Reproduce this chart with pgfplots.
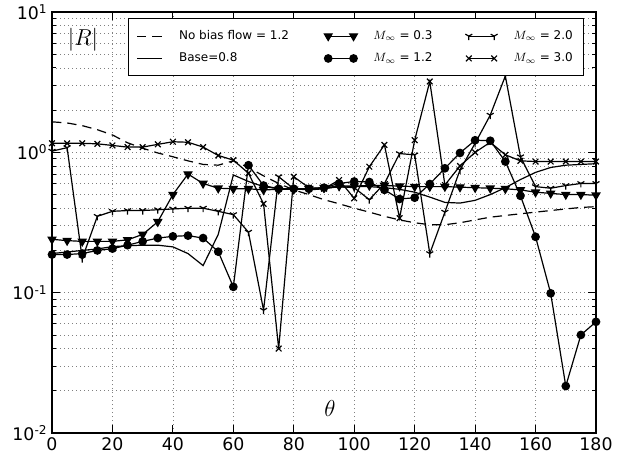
\documentclass[border=0pt]{standalone}
\usepackage{fontspec}
\setmainfont{DejaVu Sans}
\usepackage{pgfplots}
\pgfplotsset{compat=1.18}
\begin{document}
\begin{tikzpicture}
\path[use as bounding box] (-39pt,-16.5pt) rectangle (436.5pt,324.75pt);
\begin{axis}[
  at={(0,0)}, anchor=south west,
  scale only axis, width=408pt, height=315.75pt,
  xmin=0, xmax=180, ymin=0.01, ymax=10, ymode=log,
  xtick={0,20,...,180},
  ytick={0.01,0.1,1,10},
  yticklabels={10\textsuperscript{-2},10\textsuperscript{-1},10\textsuperscript{0},10\textsuperscript{1}},
  /pgf/number format/assume math mode=true,
  ticklabel style={font=\fontsize{13}{15}\selectfont},
  tick align=inside,
  major tick length=6pt, minor tick length=3pt,
  tick style={black, line width=0.6pt},
  xmajorgrids, ymajorgrids, yminorgrids,
  major grid style={gray, line width=0.5pt, dash pattern=on 0.8pt off 2.2pt},
  minor grid style={gray, line width=0.5pt, dash pattern=on 0.8pt off 2.2pt},
  axis line style={line width=0.8pt},
  every axis plot/.append style={black, line width=0.9pt},
  legend columns=3,
  legend image code/.code={\draw[mark repeat=1,#1] plot coordinates {(0pt,0pt) (19pt,0pt)};},
  legend style={at={(0.1397,0.9857)}, anchor=north west, draw=black, line width=0.8pt,
    font=\fontsize{9}{11}\selectfont, inner xsep=6pt, inner ysep=7pt, row sep=4.5pt,
    /tikz/every odd column/.append style={column sep=10pt}},
  legend cell align=left,
]
% No bias flow
\addplot[mark=none, dash pattern=on 7pt off 4.5pt] coordinates {
(0,1.65) (5,1.62) (10,1.55) (15,1.45) (20,1.33) (25,1.17) (30,1.07) (35,0.99) (40,0.93) (45,0.87)
(50,0.82) (55,0.81) (60,0.87) (65,0.78) (70,0.68) (75,0.60) (80,0.54) (85,0.50) (90,0.46) (95,0.43)
(100,0.40) (105,0.375) (110,0.35) (115,0.33) (120,0.315) (125,0.305) (130,0.305) (135,0.315) (140,0.33) (145,0.345)
(150,0.355) (155,0.365) (160,0.375) (165,0.385) (170,0.395) (175,0.405) (180,0.41)};
\addlegendentry{\makebox[107pt][l]{No bias flow = 1.2}}
% M = 0.3
\addplot[mark=triangle*, mark size=3.3pt, mark options={fill=black, rotate=180, solid}] coordinates {
(0,0.24) (5,0.235) (10,0.232) (15,0.232) (20,0.232) (25,0.238) (30,0.26) (35,0.32) (40,0.50) (45,0.70)
(50,0.60) (55,0.555) (60,0.55) (65,0.55) (70,0.54) (75,0.545) (80,0.545) (85,0.55) (90,0.56) (95,0.575)
(100,0.575) (105,0.58) (110,0.58) (115,0.575) (120,0.57) (125,0.57) (130,0.57) (135,0.565) (140,0.56) (145,0.555)
(150,0.55) (155,0.54) (160,0.52) (165,0.51) (170,0.50) (175,0.50) (180,0.495)};
\addlegendentry{\makebox[67pt][l]{$M_\infty$ = 0.3}}
% M = 2.0
\addplot[mark=Mercedes star flipped, mark size=3pt, mark options={solid}] coordinates {
(0,1.02) (5,1.08) (10,0.175) (15,0.35) (20,0.38) (25,0.385) (30,0.385) (35,0.39) (40,0.395) (45,0.40)
(50,0.40) (55,0.38) (60,0.36) (65,0.27) (70,0.075) (75,0.67) (80,0.55) (85,0.54) (90,0.55) (95,0.57)
(100,0.56) (105,0.46) (110,0.60) (115,0.98) (120,0.96) (125,0.19) (130,0.375) (135,0.75) (140,1.16) (145,1.84)
(150,3.5) (155,0.93) (160,0.57) (165,0.555) (170,0.58) (175,0.60) (180,0.60)};
\addlegendentry{$M_\infty$ = 2.0}
% Base
\addplot[mark=none] coordinates {
(0,0.19) (5,0.195) (10,0.20) (15,0.205) (20,0.213) (25,0.216) (30,0.218) (35,0.218) (40,0.212) (45,0.19)
(50,0.156) (55,0.26) (60,0.69) (65,0.62) (70,0.57) (75,0.55) (80,0.55) (85,0.55) (90,0.56) (95,0.565)
(100,0.57) (105,0.57) (110,0.56) (115,0.545) (120,0.52) (125,0.48) (130,0.44) (135,0.435) (140,0.455) (145,0.50)
(150,0.56) (155,0.64) (160,0.72) (165,0.78) (170,0.81) (175,0.82) (180,0.83)};
\addlegendentry{\makebox[107pt][l]{Base=0.8}}
% M = 1.2
\addplot[mark=*, mark size=2.8pt, mark options={fill=black, solid}] coordinates {
(0,0.187) (5,0.187) (10,0.19) (15,0.20) (20,0.206) (25,0.218) (30,0.232) (35,0.245) (40,0.252) (45,0.255)
(50,0.245) (55,0.196) (60,0.11) (65,0.81) (70,0.58) (75,0.55) (80,0.55) (85,0.55) (90,0.56) (95,0.60)
(100,0.62) (105,0.615) (110,0.54) (115,0.465) (120,0.475) (125,0.595) (130,0.77) (135,0.99) (140,1.22) (145,1.21)
(150,0.86) (155,0.49) (160,0.25) (165,0.099) (170,0.0216) (175,0.05) (180,0.062)};
\addlegendentry{\makebox[67pt][l]{$M_\infty$ = 1.2}}
% M = 3.0
\addplot[mark=x, mark size=3pt, mark options={solid}] coordinates {
(0,1.16) (5,1.16) (10,1.16) (15,1.15) (20,1.12) (25,1.09) (30,1.09) (35,1.14) (40,1.19) (45,1.18)
(50,1.09) (55,0.95) (60,0.88) (65,0.71) (70,0.43) (75,0.04) (80,0.67) (85,0.56) (90,0.55) (95,0.635)
(100,0.47) (105,0.79) (110,1.13) (115,0.34) (120,1.22) (125,3.2) (130,0.585) (135,0.80) (140,1.0) (145,1.18)
(150,0.96) (155,0.87) (160,0.86) (165,0.86) (170,0.86) (175,0.86) (180,0.86)};
\addlegendentry{$M_\infty$ = 3.0}
\node[font=\fontsize{18}{20}\selectfont] at (axis description cs:0.057,0.933) {$|R|$};
\node[font=\fontsize{18}{20}\selectfont] at (axis description cs:0.511,0.059) {$\theta$};
\end{axis}
\end{tikzpicture}
\end{document}
